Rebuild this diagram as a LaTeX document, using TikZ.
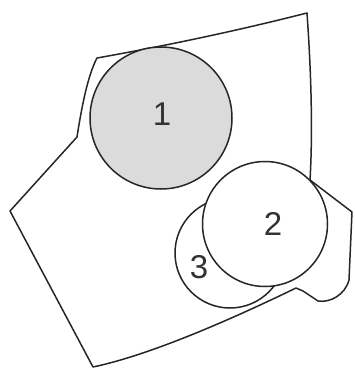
\documentclass[tikz,border=0pt]{standalone}
\usepackage{fontspec}
\setmainfont{Liberation Sans}
\usetikzlibrary{positioning}

\tikzset{
    outline/.style={line width=1.5pt, black!85, line join=round},
    region/.style={circle, draw=black!85, line width=1.5pt, inner sep=0pt},
    digit/.style={font=\fontsize{33}{33}\selectfont, text=black!80}
}

\begin{document}
\begin{tikzpicture}[x=1pt, y=-1pt]
    \useasboundingbox (0,0) rectangle (355,368);

    % Outer region
    \draw[outline, fill=white] (97,58) .. controls (170,45) and (240,30) .. (307,13)
        .. controls (311,70) and (313,130) .. (310,180)
        -- (352,212) -- (349,280)
        .. controls (345,295) and (330,303) .. (318,301)
        -- (303,291) -- (296,288)
        .. controls (230,320) and (150,355) .. (93,367)
        -- (10,211) -- (77,137)
        .. controls (82,105) and (88,75) .. (97,58) -- cycle;

    % Circles (3 sits behind 2)
    \node[region, fill=black!14, minimum size=142pt] (c1) at (161,118) {};
    \node[region, fill=white, minimum size=110pt] (c3) at (230,253) {};
    \node[region, fill=white, minimum size=125pt] (c2) at (265,224) {};

    % Labels
    \node[digit] (l1) at (162,114) {1};
    \node[digit] (l2) at (273,224) {2};
    \node[digit] (l3) at (199,267) {3};
\end{tikzpicture}
\end{document}
